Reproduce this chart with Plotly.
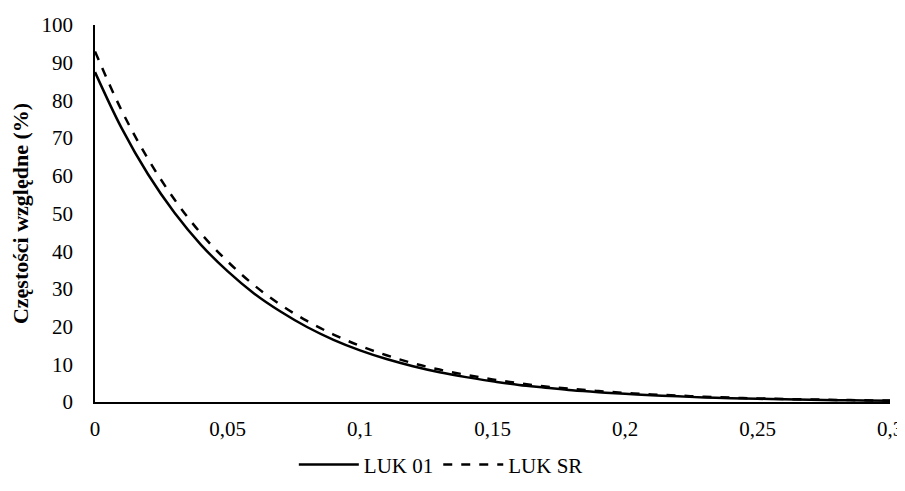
import plotly.graph_objects as go

x_vals = [0.00, 0.01, 0.02, 0.03, 0.04, 0.05, 0.06, 0.07, 0.08, 0.09, 0.10,
          0.11, 0.12, 0.13, 0.14, 0.15, 0.16, 0.17, 0.18, 0.19, 0.20,
          0.21, 0.22, 0.23, 0.24, 0.25, 0.26, 0.27, 0.28, 0.29, 0.30]
luk_01 = [87.5, 72.7, 60.4, 50.2, 41.7, 34.7, 28.8, 24.0, 19.9, 16.5, 13.7,
          11.4, 9.5, 7.9, 6.6, 5.5, 4.5, 3.8, 3.1, 2.6, 2.2,
          1.8, 1.5, 1.2, 1.0, 0.86, 0.71, 0.59, 0.49, 0.41, 0.34]
luk_sr = [93.0, 77.4, 64.5, 53.7, 44.7, 37.3, 31.0, 25.8, 21.5, 17.9, 14.9,
          12.4, 10.3, 8.6, 7.2, 6.0, 5.0, 4.1, 3.5, 2.9, 2.4,
          2.0, 1.7, 1.4, 1.15, 0.96, 0.80, 0.67, 0.56, 0.46, 0.38]
x_ticks = [0, 0.05, 0.1, 0.15, 0.2, 0.25, 0.3]
x_tick_labels = ["0", "0,05", "0,1", "0,15", "0,2", "0,25", "0,3"]
y_ticks = [0, 10, 20, 30, 40, 50, 60, 70, 80, 90, 100]
y_title = "Częstości względne (%)"

font_family = "Liberation Serif, Times New Roman, serif"

fig = go.Figure()
fig.add_trace(go.Scatter(x=x_vals, y=luk_01, mode="lines", name="LUK 01",
                         line=dict(color="black", width=2.5, shape="spline")))
fig.add_trace(go.Scatter(x=x_vals, y=luk_sr, mode="lines", name="LUK SR",
                         line=dict(color="black", width=2.5, dash="dash", shape="spline")))

fig.update_layout(
    width=905, height=470,
    margin=dict(l=87, r=23, t=17, b=76, autoexpand=False),
    paper_bgcolor="white", plot_bgcolor="white",
    font=dict(family=font_family, size=21, color="black"),
    showlegend=True,
    legend=dict(orientation="h", x=0.435, xanchor="center",
                yref="container", y=0.028, yanchor="middle",
                font=dict(size=21), itemwidth=60),
    xaxis=dict(range=[0, 0.3], tickvals=x_ticks, ticktext=x_tick_labels,
               showgrid=False, zeroline=False, showline=True, linecolor="black",
               linewidth=1.5, ticks="", ticklabelstandoff=7, automargin=False,
               ticklabeloverflow="allow"),
    yaxis=dict(range=[0, 100], tickvals=y_ticks, showgrid=False, zeroline=False,
               showline=True, linecolor="black", linewidth=1.5, ticks="",
               ticklabelstandoff=16, automargin=False,
               title=dict(text="<b>" + y_title + "</b>", font=dict(size=22), standoff=8)),
)

fig.write_html("out.html")
